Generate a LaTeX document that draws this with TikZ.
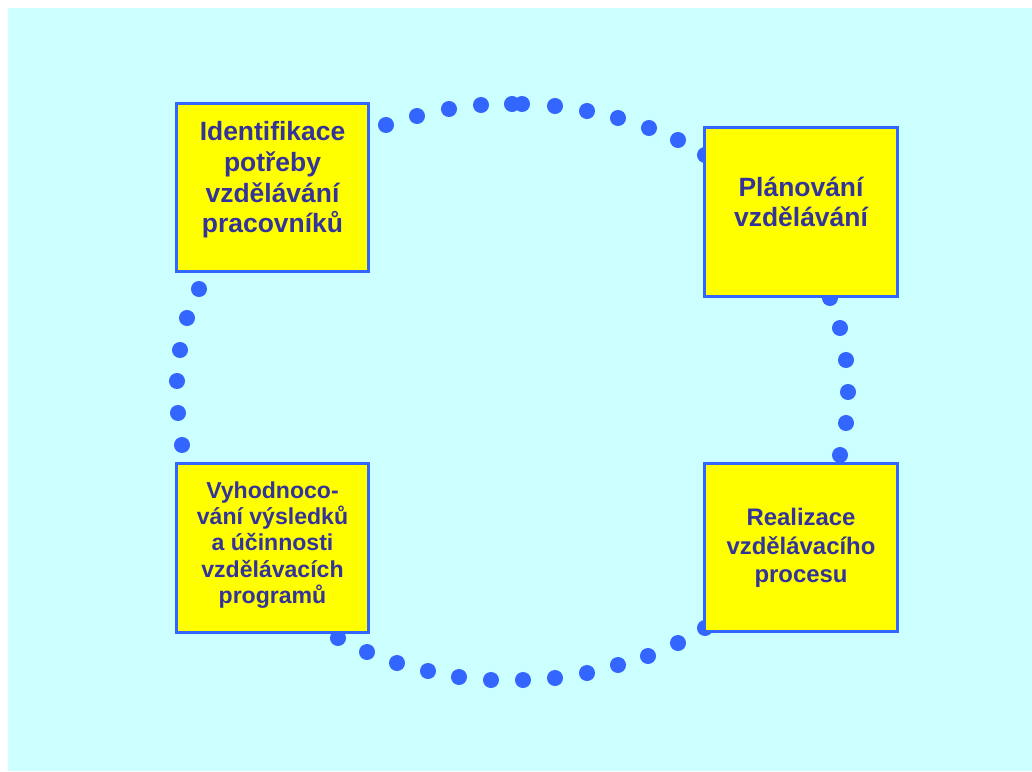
\documentclass[tikz,border=0pt]{standalone}
\usepackage{fontspec}
\setmainfont{Liberation Sans}
\definecolor{bgcyan}{HTML}{CCFFFF}
\definecolor{boxyellow}{HTML}{FFFF00}
\definecolor{edgeblue}{HTML}{3366FF}
\definecolor{inkblue}{HTML}{333399}
\tikzset{
  stagebox/.style={draw=edgeblue, fill=boxyellow, line width=2.1pt,
    rectangle, inner sep=0pt, outer sep=0pt},
  bigtxt/.style={text=inkblue, align=center,
    font=\fontsize{18.8pt}{21.8pt}\selectfont\bfseries},
  smalltxt/.style={text=inkblue, align=center,
    font=\fontsize{16.4pt}{18.6pt}\selectfont\bfseries},
  dotmark/.style={fill=edgeblue, draw=none},
}
\begin{document}
\begin{tikzpicture}[x=0.025cm, y=-0.025cm]
  % page and background
  \useasboundingbox (0,0) rectangle (1032,771);
  \fill[white] (0,0) rectangle (1032,771);
  \fill[bgcyan] (8,8) rectangle (1032,771);

  % dotted cycle between the stages
  \foreach \p in {(386,125),(417,116),(449,109),(481,105),(512,104),
                  (522,104),(555,106),(587,111),(618,118),(649,128),(678,140),(705,155),
                  (830,298),(840,328),(846,360),(848,392),(846,423),(840,455),
                  (705,628),(678,643),(648,656),(618,665),(587,673),(555,678),(523,680),
                  (491,680),(459,677),(428,671),(397,663),(367,652),(338,638),
                  (182,445),(178,413),(177,381),(180,350),(187,318),(199,289)}
    \fill[dotmark] \p circle[radius=5.7pt];

  % stage boxes
  \node[stagebox, minimum width=4.8cm, minimum height=4.2cm] (ident) at (272.5,187.5) {};
  \node[stagebox, minimum width=4.825cm, minimum height=4.225cm] (plan) at (801,212) {};
  \node[stagebox, minimum width=4.825cm, minimum height=4.2cm] (real) at (801,547.5) {};
  \node[stagebox, minimum width=4.8cm, minimum height=4.225cm] (eval) at (272.5,548) {};

  % stage labels
  \node[bigtxt] (identtxt) at (272.5,180) {Identifikace\\potřeby\\vzdělávání\\pracovníků};
  \node[bigtxt] (plantxt) at (801,202) {Plánování\\vzdělávání};
  \node[smalltxt, font=\fontsize{17pt}{20.2pt}\selectfont\bfseries] (realtxt) at (801,548) {Realizace\\vzdělávacího\\procesu};
  \node[smalltxt] (evaltxt) at (272.5,545) {Vyhodnoco-\\vání výsledků\\a účinnosti\\vzdělávacích\\programů};
\end{tikzpicture}
\end{document}
